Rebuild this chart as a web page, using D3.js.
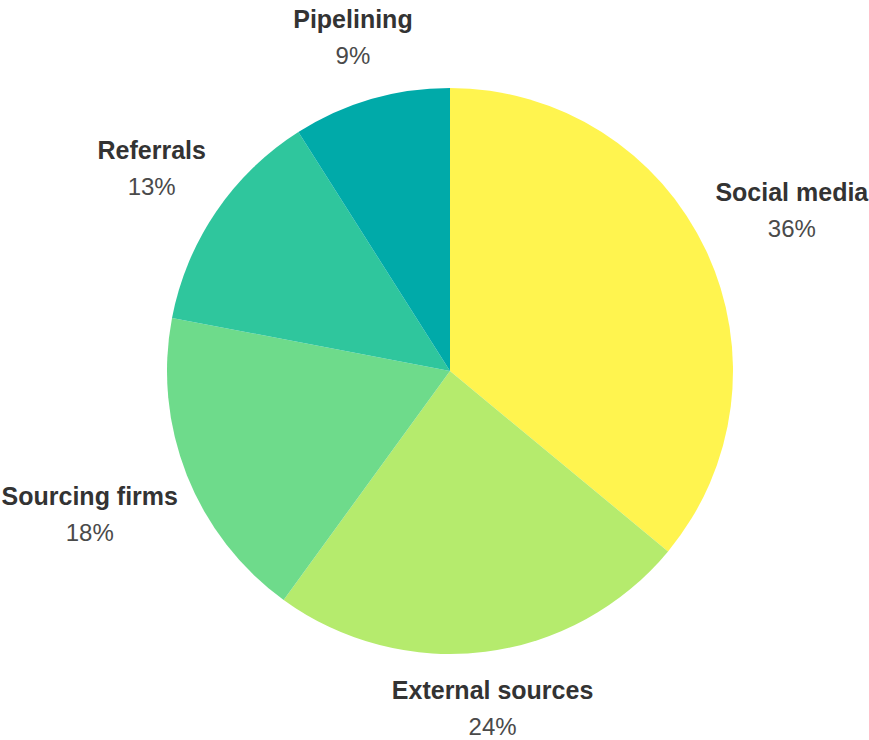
<!DOCTYPE html>
<html>
<head>
    <meta charset="utf-8">
    <script src="https://d3js.org/d3.v7.min.js"></script>
    <style>
        body { margin: 0; background: #fff; }
        text { font-family: "Liberation Sans", Arial, sans-serif; }
    </style>
</head>
<body>
    <div id="my_dataviz"></div>
    <script>
        // chart data
        var categories = ["Social media", "External sources", "Sourcing firms", "Referrals", "Pipelining"];
        var values = [36, 24, 18, 13, 9];
        var colors = ["#fff44f", "#b5eb6d", "#6edb8b", "#2fc69d", "#00aaa9"];

        var width = 869,
            height = 740,
            cx = 450,
            cy = 371,
            radius = 283;

        var svg = d3.select("#my_dataviz")
            .append("svg")
            .attr("width", width)
            .attr("height", height);

        var g = svg.append("g")
            .attr("transform", "translate(" + cx + "," + cy + ")");

        var data = categories.map(function(c, i) {
            return { name: c, value: values[i] };
        });

        var pie = d3.pie()
            .sort(null)
            .value(function(d) { return d.value; });

        var arc = d3.arc()
            .innerRadius(0)
            .outerRadius(radius);

        var color = d3.scaleOrdinal()
            .domain(categories)
            .range(colors);

        var arcs = pie(data);

        g.selectAll("path")
            .data(arcs)
            .enter()
            .append("path")
            .attr("d", arc)
            .attr("fill", function(d) { return color(d.data.name); });

        // labels: title + percent, pushed out along the mid angle until
        // the label box clears the pie by a small gap
        var gap = 12;
        var lineGap = 36;

        arcs.forEach(function(d) {
            var mid = (d.startAngle + d.endAngle) / 2;
            var ux = Math.sin(mid), uy = -Math.cos(mid);

            var lab = g.append("g");
            var t1 = lab.append("text")
                .attr("text-anchor", "middle")
                .attr("font-size", 25)
                .attr("font-weight", "bold")
                .attr("fill", "#333")
                .attr("y", -lineGap / 2 + 9)
                .text(d.data.name);
            var t2 = lab.append("text")
                .attr("text-anchor", "middle")
                .attr("font-size", 24)
                .attr("fill", "#4a4a4a")
                .attr("y", lineGap / 2 + 9)
                .text(Math.round(d.data.value / d3.sum(values) * 100) + "%");

            var w = Math.max(t1.node().getComputedTextLength(), t2.node().getComputedTextLength());
            var hw = w * 0.47, hh = 42;

            var lo = radius, hi = radius * 2;
            for (var k = 0; k < 40; k++) {
                var t = (lo + hi) / 2;
                var px = Math.max(0, Math.abs(t * ux) - hw);
                var py = Math.max(0, Math.abs(t * uy) - hh);
                if (Math.sqrt(px * px + py * py) < radius + gap) lo = t; else hi = t;
            }
            lab.attr("transform", "translate(" + (hi * ux) + "," + (hi * uy) + ")");
        });
    </script>
</body>
</html>
